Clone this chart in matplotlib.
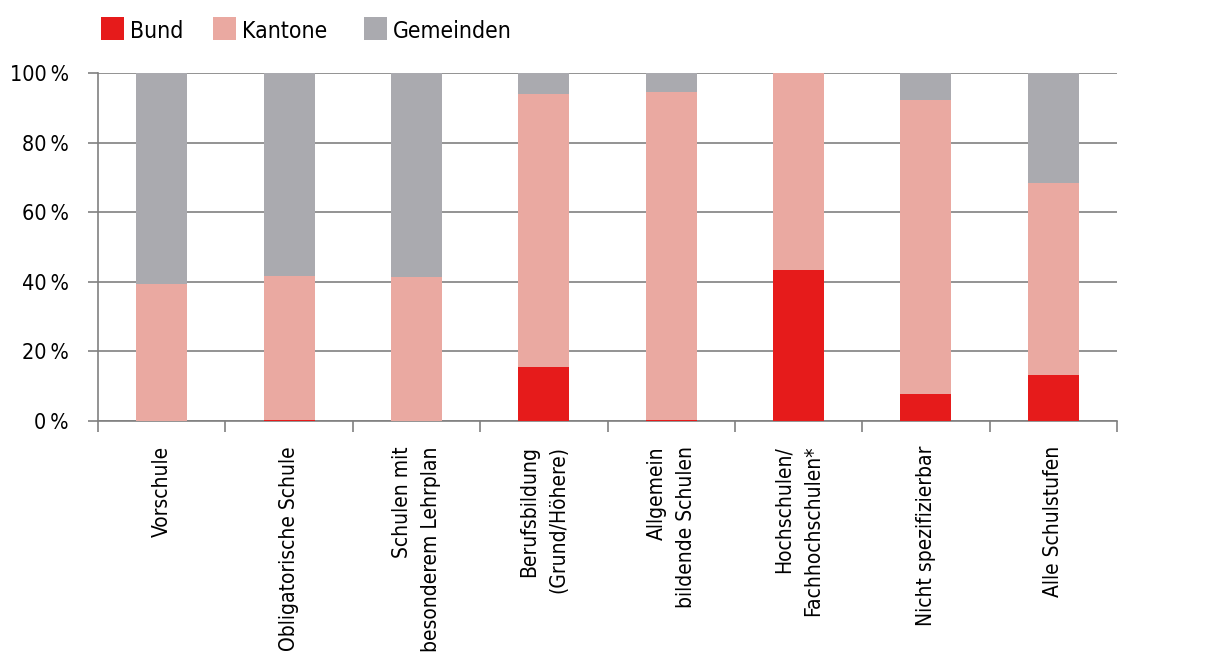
import numpy as np
import matplotlib.pyplot as plt
from matplotlib.patches import Rectangle

plt.rcParams['font.family'] = ['DejaVu Sans']
plt.rcParams['font.stretch'] = 'condensed'

# ---- data (shares in %) ----
categories = ["Vorschule", "Obligatorische Schule", "Schulen mit\nbesonderem Lehrplan",
              "Berufsbildung\n(Grund/Höhere)", "Allgemein\nbildende Schulen",
              "Hochschulen/\nFachhochschulen*", "Nicht spezifizierbar", "Alle Schulstufen"]
bund = [0.0, 0.2, 0.0, 15.5, 0.4, 43.4, 7.8, 13.2]
kantone = [39.4, 41.5, 41.4, 78.5, 94.1, 56.6, 84.4, 55.2]
gemeinden = [60.6, 58.3, 58.6, 6.0, 5.5, 0.0, 7.8, 31.6]
series = ["Bund", "Kantone", "Gemeinden"]

col_bund = "#e61b1b"
col_kant = "#eaa9a1"
col_gem = "#aaaaaf"
colors = [col_bund, col_kant, col_gem]
grid_col = "#808080"

W, H = 1211, 669
fig = plt.figure(figsize=(W / 100, H / 100), dpi=100)
ax = fig.add_axes([98 / W, 1 - 421 / H, (1117 - 98) / W, (421 - 73) / H])

x = np.arange(len(categories)) + 0.5
bund = np.array(bund)
kantone = np.array(kantone)
gemeinden = np.array(gemeinden)
w = 0.4
ax.bar(x, bund, w, color=col_bund, zorder=3)
ax.bar(x, kantone, w, bottom=bund, color=col_kant, zorder=3)
ax.bar(x, gemeinden, w, bottom=bund + kantone, color=col_gem, zorder=3)

ax.set_xlim(0, len(categories))
ax.set_ylim(0, 100)
ax.set_yticks(np.arange(0, 101, 20))
ax.set_yticklabels([f"{v}\u2009%" for v in range(0, 101, 20)], fontsize=15.5)
ax.yaxis.grid(True, color=grid_col, lw=1.2, zorder=0)
ax.tick_params(axis='y', length=7.2, width=1.2, color=grid_col, pad=14)

# category separators as major ticks, names as minor tick labels
ax.set_xticks(np.arange(0, len(categories) + 1))
ax.set_xticklabels([])
ax.tick_params(axis='x', which='major', length=8, width=1.2, color=grid_col)
ax.set_xticks(x, minor=True)
ax.set_xticklabels(categories, minor=True, rotation=90, fontsize=15,
                   va='top', ha='center', multialignment='right', linespacing=1.6)
ax.tick_params(axis='x', which='minor', length=0, pad=18)

for s in ['top', 'right']:
    ax.spines[s].set_visible(False)
for s in ['left', 'bottom']:
    ax.spines[s].set_color(grid_col)
    ax.spines[s].set_linewidth(1.2)

# legend drawn by hand (uneven spacing in the original)
leg_x = [101, 213, 364]
for lx, name, c in zip(leg_x, series, colors):
    fig.add_artist(Rectangle((lx / W, 1 - 40 / H), 23 / W, 23 / H,
                             transform=fig.transFigure, color=c, lw=0))
    fig.text((lx + 29) / W, 1 - 38 / H, name, fontsize=16.5, va='baseline', ha='left')

fig.savefig("out.png", dpi=100)
